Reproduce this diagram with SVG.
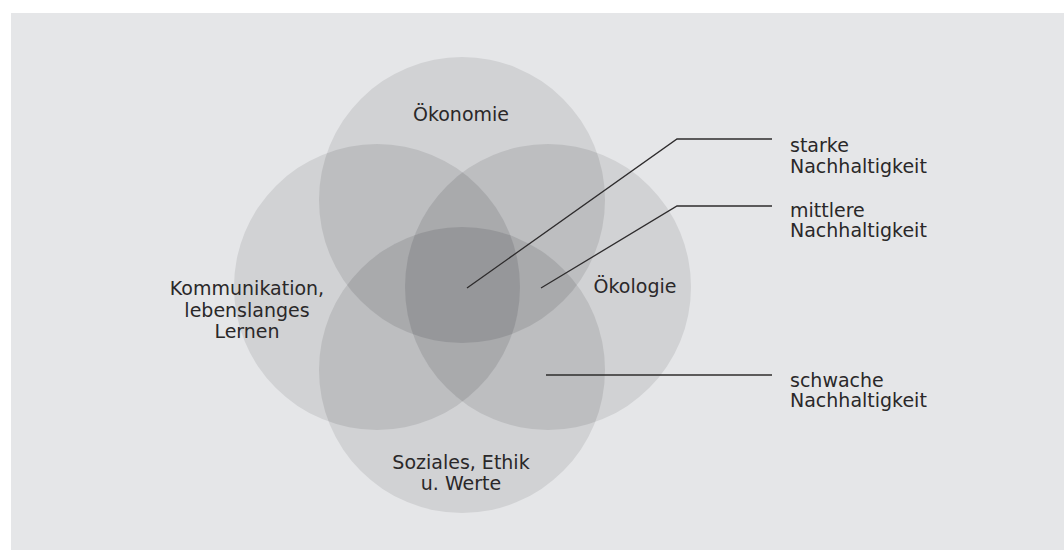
<svg xmlns="http://www.w3.org/2000/svg" width="1064" height="550" viewBox="0 0 1064 550">
<style>
.t{font-family:"DejaVu Sans","Liberation Sans",sans-serif;font-size:19px;fill:#2a2829}
.c{text-anchor:middle}
.l1{fill:#d1d2d4}
.l2{fill:#bdbec0}
.l3{fill:#a9aaac}
.l4{fill:#96979a}
.ln{fill:none;stroke:#2e2c2d;stroke-width:1.3}
</style>
<defs>
<circle id="T" cx="462" cy="200" r="143"/>
<circle id="B" cx="462" cy="370" r="143"/>
<circle id="L" cx="377" cy="287" r="143"/>
<circle id="R" cx="548" cy="287" r="143"/>
<clipPath id="cT"><use href="#T"/></clipPath>
<clipPath id="cB"><use href="#B"/></clipPath>
<clipPath id="cL"><use href="#L"/></clipPath>
<clipPath id="cR"><use href="#R"/></clipPath>
<clipPath id="cTL"><use href="#L" clip-path="url(#cT)"/></clipPath>
<clipPath id="cTR"><use href="#R" clip-path="url(#cT)"/></clipPath>
<clipPath id="cBL"><use href="#L" clip-path="url(#cB)"/></clipPath>
<clipPath id="cTLR"><use href="#R" clip-path="url(#cTL)"/></clipPath>
</defs>
<rect x="11" y="13" width="1053" height="537" fill="#e5e6e8"/>
<g id="circles">
<g id="level1" class="l1">
<use href="#T"/><use href="#B"/><use href="#L"/><use href="#R"/>
</g>
<g id="level2" class="l2">
<use href="#L" clip-path="url(#cT)"/>
<use href="#R" clip-path="url(#cT)"/>
<use href="#B" clip-path="url(#cT)"/>
<use href="#L" clip-path="url(#cB)"/>
<use href="#R" clip-path="url(#cB)"/>
<use href="#R" clip-path="url(#cL)"/>
</g>
<g id="level3" class="l3">
<use href="#R" clip-path="url(#cTL)"/>
<use href="#B" clip-path="url(#cTL)"/>
<use href="#B" clip-path="url(#cTR)"/>
<use href="#R" clip-path="url(#cBL)"/>
</g>
<g id="level4" class="l4">
<use href="#B" clip-path="url(#cTLR)"/>
</g>
</g>
<g id="connectors">
<polyline class="ln" points="467,288 677,139 772,139"/>
<polyline class="ln" points="541,288 677,206 772,206"/>
<line class="ln" x1="546" y1="375" x2="772" y2="375"/>
</g>
<g id="oekonomie"><text class="t c" x="461" y="121">Ökonomie</text></g>
<g id="oekologie"><text class="t c" x="635" y="293">Ökologie</text></g>
<g id="kommunikation"><text class="t c" x="247" y="295">Kommunikation,</text><text class="t c" x="247" y="317">lebenslanges</text><text class="t c" x="247" y="338">Lernen</text></g>
<g id="soziales"><text class="t c" x="461" y="469">Soziales, Ethik</text><text class="t c" x="461" y="490">u. Werte</text></g>
<g id="starke"><text class="t" x="790" y="152">starke</text><text class="t" x="790" y="173">Nachhaltigkeit</text></g>
<g id="mittlere"><text class="t" x="790" y="217">mittlere</text><text class="t" x="790" y="237">Nachhaltigkeit</text></g>
<g id="schwache"><text class="t" x="790" y="387">schwache</text><text class="t" x="790" y="407">Nachhaltigkeit</text></g>
</svg>
